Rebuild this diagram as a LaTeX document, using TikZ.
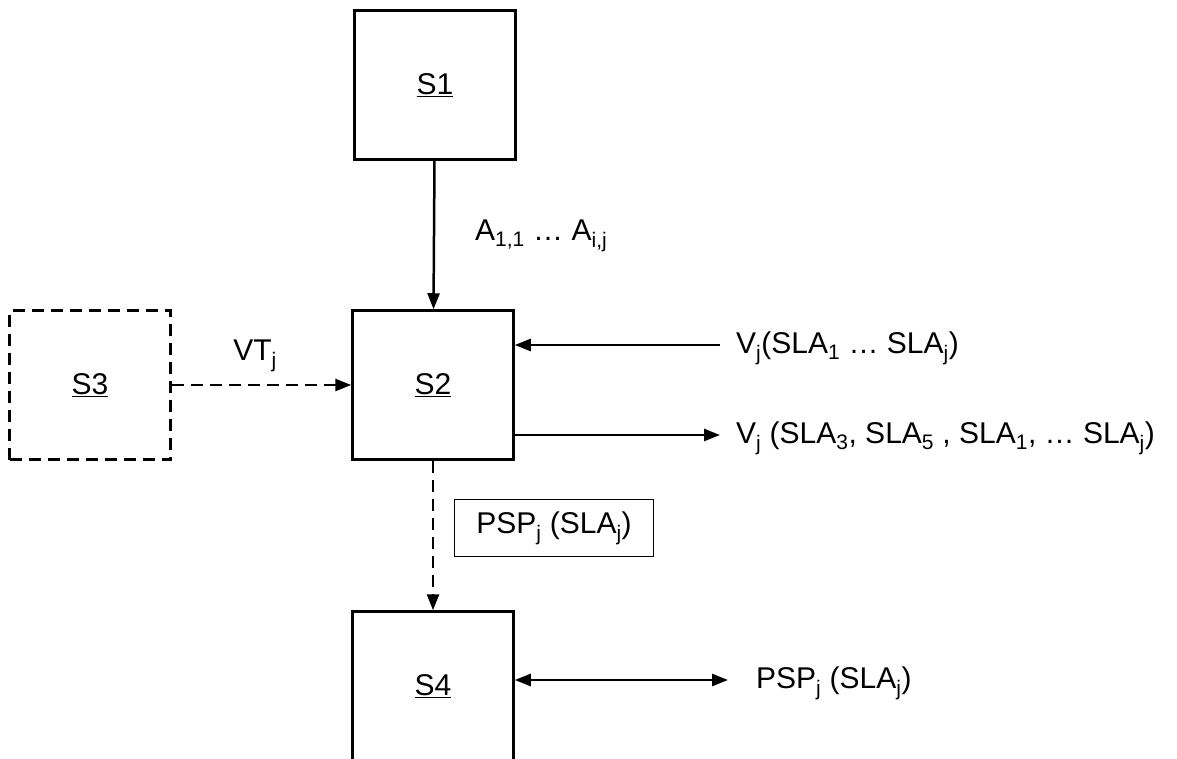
\documentclass[tikz,border=0pt]{standalone}
\usepackage{fontspec}
\setmainfont{Liberation Sans}
\usepackage{tikz}
\usetikzlibrary{positioning, arrows.meta}

\begin{document}
\begin{tikzpicture}[x=1pt, y=-1pt, font=\fontsize{30}{34}\selectfont,
  stagebox/.style={draw, line width=2.5pt, minimum width=161pt, minimum height=149pt, inner sep=0pt},
  optbox/.style={stagebox, dash pattern=on 12pt off 7pt},
  flow/.style={-{Triangle[length=16pt, width=12pt]}, line width=2.5pt},
  optflow/.style={flow, dash pattern=on 12pt off 7pt},
  both/.style={{Triangle[length=16pt, width=12pt]}-{Triangle[length=16pt, width=12pt]}, line width=2.5pt},
  tag/.style={anchor=west, inner sep=0pt}]
  \useasboundingbox (0,0) rectangle (1177,759);
  % stages
  \foreach \nm/\x/\y in {S1/435/85, S2/433/385, S4/433/686}{
    \node[stagebox] (\nm) at (\x,\y) {\underline{\nm}};
  }
  \node[optbox] (S3) at (90,385) {\underline{S3}};
  % free ends on the right
  \coordinate (vin) at (720,345);
  \coordinate (vout) at (720,435);
  \coordinate (pspend) at (728,680);
  % connectors
  \draw[flow] (S1) -- (S2);
  \draw[optflow] (S3) -- (S2);
  \draw[optflow] (S2) -- (S4);
  \draw[flow] (vin) -- (vin -| S2.east);
  \draw[flow] (vout -| S2.east) -- (vout);
  \draw[both] (pspend -| S4.east) -- (pspend);
  % labels
  \node[tag] (alab) at (475,236) {A\textsubscript{1,1} \dots\ A\textsubscript{i,j}};
  \node (vtlab) at (255,356) {VT\textsubscript{j}};
  \node[tag] (vinlab) at (736,348) {V\textsubscript{j}(SLA\textsubscript{1} \dots\ SLA\textsubscript{j})};
  \node[tag] (voutlab) at (736,438) {V\textsubscript{j} (SLA\textsubscript{3}, SLA\textsubscript{5} , SLA\textsubscript{1}, \dots\ SLA\textsubscript{j})};
  \node[draw, line width=1.2pt, minimum width=199pt, minimum height=57pt] (psplab) at (554,528) {PSP\textsubscript{j} (SLA\textsubscript{j})};
  \node[tag] (pspout) at (756,683) {PSP\textsubscript{j} (SLA\textsubscript{j})};
\end{tikzpicture}
\end{document}
